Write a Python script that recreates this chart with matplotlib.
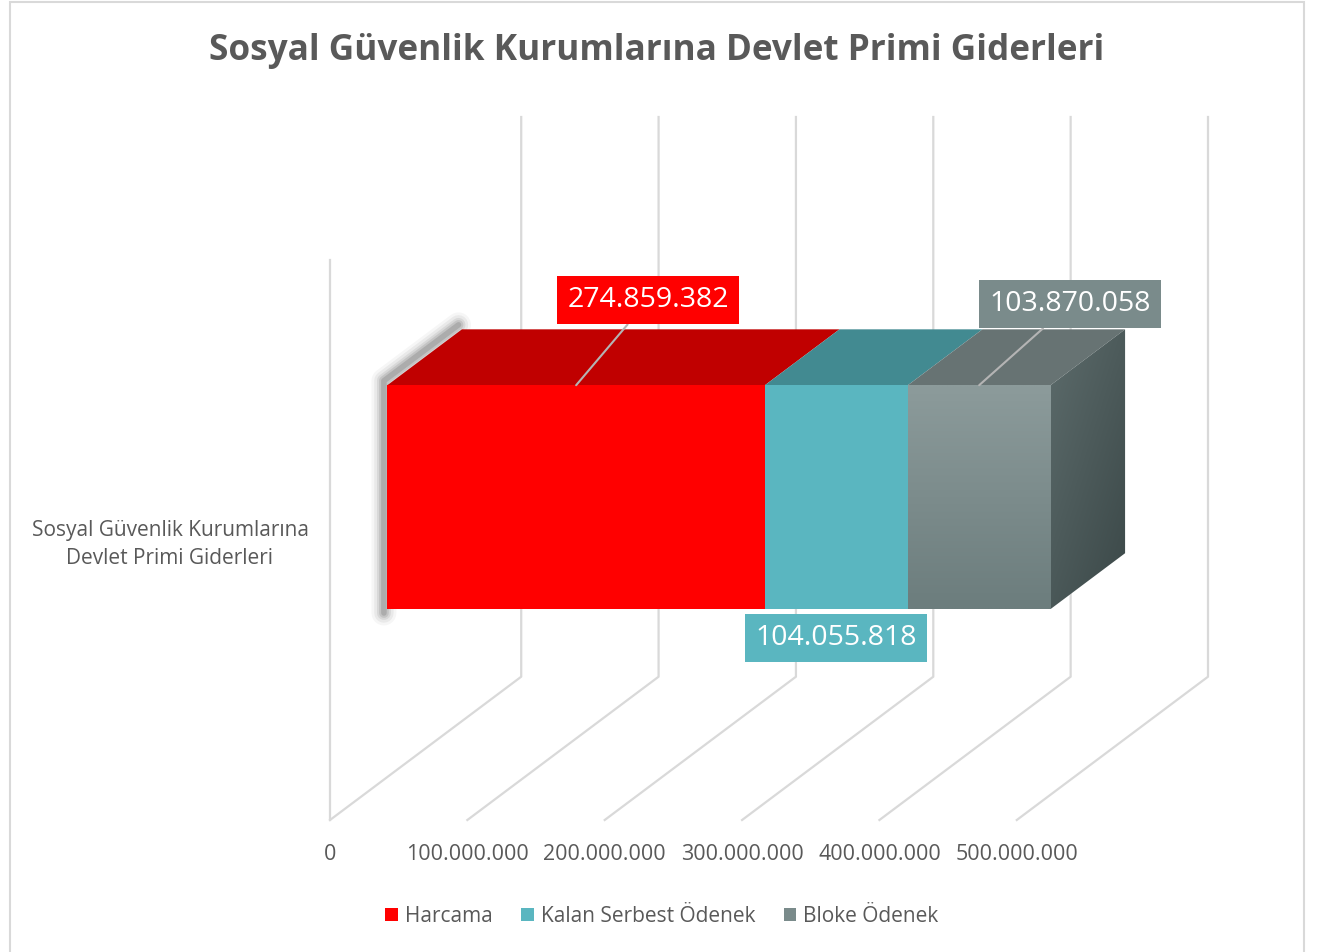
import numpy as np
import matplotlib
matplotlib.use('Agg')
import matplotlib.pyplot as plt
from matplotlib.patches import Polygon, Patch, Rectangle
from matplotlib.colors import to_rgb

plt.rcParams['font.family'] = ['Open Sans', 'DejaVu Sans']

# data
title = 'Sosyal Güvenlik Kurumlarına Devlet Primi Giderleri'
category = 'Sosyal Güvenlik Kurumlarına\nDevlet Primi Giderleri'
series = ['Harcama', 'Kalan Serbest Ödenek', 'Bloke Ödenek']
values = [274859382, 104055818, 103870058]
ticks = [0, 100000000, 200000000, 300000000, 400000000, 500000000]
tick_labels = ['0', '100.000.000', '200.000.000', '300.000.000', '400.000.000', '500.000.000']

# styles
front_cols = ['#FF0000', '#5AB6C0', ('#8C9B9B', '#6C7D7D')]
top_cols = ['#C00000', '#428A91', '#677373']
side_cols = ('#5C6B6B', '#3E4B4B')
label_cols = ['#FF0000', '#5AB6C0', '#7A8B8B']
txt = '#595959'
grid = '#D9D9D9'

# oblique projection: value, depth (0..1), height (0..1)
XMAX = ticks[-1]
DX = XMAX * 191 / 686
DY = 0.256
D0, D1 = 0.30, 0.69
H0, H1 = 0.30, 0.70


def proj(v, d, h):
    return (v + d * DX, h + d * DY)


def grad_poly(ax, pts, c1, c2, wx, wy, z):
    poly = Polygon(pts, closed=True, fc='none', ec='none', zorder=z)
    ax.add_patch(poly)
    pts = np.array(pts)
    x0, y0 = pts.min(axis=0)
    x1, y1 = pts.max(axis=0)
    u, w = np.meshgrid(np.linspace(0, 1, 64), np.linspace(0, 1, 64))
    t = np.clip(wx * u + wy * (1 - w), 0, 1)
    a, b = np.array(to_rgb(c1)), np.array(to_rgb(c2))
    img = a[None, None, :] * (1 - t[..., None]) + b[None, None, :] * t[..., None]
    im = ax.imshow(img, extent=[x0, x1, y0, y1], origin='lower', aspect='auto',
                   zorder=z, interpolation='bilinear')
    im.set_clip_path(poly)


fig = plt.figure(figsize=(13.19, 9.52), dpi=100)
fig.patches.append(Rectangle((10 / 1319, -0.01), 1294 / 1319, 1.0 - 2 / 952 + 0.01,
                             transform=fig.transFigure, fc='none', ec=grid, lw=1.5))
ax = fig.add_axes([330 / 1319, 1 - 820 / 952, 878 / 1319, 703 / 952])
ax.set_xlim(0, XMAX + DX)
ax.set_ylim(0, 1 + DY)
ax.axis('off')

# walls / gridlines
for t in ticks:
    p = [proj(t, 0, 0), proj(t, 1, 0), proj(t, 1, 1)]
    ax.plot(*zip(*p), color=grid, lw=1.6, zorder=1, clip_on=False)
p = [proj(0, 0, 0), proj(0, 0, 1)]
ax.plot(*zip(*p), color=grid, lw=1.6, zorder=1, clip_on=False)

# soft shadow at left edge
sh = [proj(0, D0, H0 - 0.015), proj(0, D0, H1), proj(0, D1, H1)]
sx, sy = zip(*sh)
sx = np.array(sx) - DX * 0.018
sy = np.array(sy) + 0.008
for lw, al in [(18, 0.035), (14, 0.05), (10, 0.07), (7, 0.09), (4, 0.12)]:
    ax.plot(sx, sy, color='black', lw=lw, alpha=al, zorder=2,
            solid_capstyle='round', solid_joinstyle='round')

# bars
starts = np.concatenate([[0], np.cumsum(values)[:-1]])
ends = np.cumsum(values)
for i in range(len(values)):
    v0, v1 = starts[i], ends[i]
    front = [proj(v0, D0, H0), proj(v1, D0, H0), proj(v1, D0, H1), proj(v0, D0, H1)]
    top = [proj(v0, D0, H1), proj(v1, D0, H1), proj(v1, D1, H1), proj(v0, D1, H1)]
    ax.add_patch(Polygon(top, closed=True, fc=top_cols[i], ec='none', zorder=3))
    if isinstance(front_cols[i], tuple):
        grad_poly(ax, front, front_cols[i][0], front_cols[i][1], 0.0, 1.0, 3)
    else:
        ax.add_patch(Polygon(front, closed=True, fc=front_cols[i], ec='none', zorder=3))
    if i == len(values) - 1:
        side = [proj(v1, D0, H0), proj(v1, D1, H0), proj(v1, D1, H1), proj(v1, D0, H1)]
        grad_poly(ax, side, side_cols[0], side_cols[1], 0.5, 0.6, 3)

ax.set_xlim(0, XMAX + DX)
ax.set_ylim(0, 1 + DY)

# data labels
fmt = lambda v: f'{v:,}'.replace(',', '.')
offsets = [(72, 85), (0, -29), (91, 81)]
for i in range(len(values)):
    mid = (starts[i] + ends[i]) / 2
    h = H0 if i == 1 else H1
    kw = {}
    if i != 1:
        kw['arrowprops'] = dict(arrowstyle='-', color='#B4B4B4', lw=1.5, shrinkA=0, shrinkB=0)
    ax.annotate(fmt(values[i]), xy=proj(mid, D0, h), xytext=offsets[i],
                textcoords='offset pixels', ha='center', va='center',
                fontsize=20.5, color='white', zorder=6,
                bbox=dict(boxstyle='square,pad=0.36', fc=label_cols[i], ec='none'), **kw)

# tick labels
for t, lab in zip(ticks, tick_labels):
    ax.annotate(lab, xy=proj(t, 0, 0), xytext=(0, -35), textcoords='offset pixels',
                ha='center', va='center', fontsize=15.5, color=txt, annotation_clip=False)

# category label
ax.annotate(category, xy=proj(0, 0, 0.5), xytext=(-160, -4), textcoords='offset pixels',
            ha='center', va='center', fontsize=15, color=txt, linespacing=1.45,
            annotation_clip=False)

fig.text(657 / 1319, 1 - 51 / 952, title, ha='center', va='center',
         fontsize=25.3, fontweight='bold', color=txt)

handles = [Patch(fc=label_cols[i], ec='none') for i in range(len(series))]
fig.legend(handles, series, loc='center', bbox_to_anchor=(662 / 1319, 1 - 916 / 952),
           ncol=3, frameon=False, fontsize=15, labelcolor=txt,
           handlelength=0.6, handleheight=0.6, handletextpad=0.35, columnspacing=1.35)

fig.savefig('out.png', dpi=100)
